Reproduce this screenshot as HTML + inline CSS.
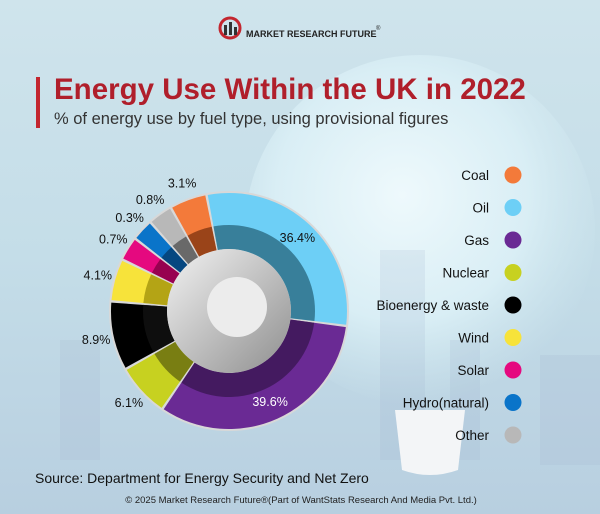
<!DOCTYPE html>
<html><head><meta charset="utf-8"><style>
html,body{margin:0;padding:0}
body{width:600px;height:514px;overflow:hidden;font-family:"Liberation Sans",sans-serif}
svg{display:block}
</style></head><body>
<svg id="chart" width="600" height="514" viewBox="0 0 600 514" xmlns="http://www.w3.org/2000/svg">
<defs>
<linearGradient id="bg" x1="0" y1="0" x2="0" y2="1">
<stop offset="0" stop-color="#cfe4ec"/><stop offset="0.5" stop-color="#c4dde8"/><stop offset="1" stop-color="#b8cfe0"/>
</linearGradient>
<radialGradient id="bulb" cx="0.45" cy="0.4" r="0.6">
<stop offset="0" stop-color="#eef9fc"/><stop offset="0.6" stop-color="#d9eef5"/><stop offset="1" stop-color="#cfe7ef" stop-opacity="0"/>
</radialGradient>
<linearGradient id="hub" x1="0" y1="0" x2="1" y2="1">
<stop offset="0" stop-color="#f2f2f2"/><stop offset="1" stop-color="#8f8f8f"/>
</linearGradient>
</defs>
<rect width="600" height="514" fill="url(#bg)"/>
<circle cx="420" cy="230" r="175" fill="url(#bulb)"/>
<g opacity="0.18" fill="#9fb3cf">
<rect x="60" y="340" width="40" height="120"/><rect x="380" y="250" width="45" height="210"/><rect x="540" y="355" width="60" height="110"/><rect x="450" y="340" width="30" height="120"/>
</g>
<path d="M395 410 L465 410 L458 470 Q430 480 402 470 Z" fill="#f3f5f7"/>
<g>
<circle cx="230" cy="28" r="10" fill="none" stroke="#c3262f" stroke-width="3"/>
<rect x="224" y="25" width="3" height="10" fill="#333"/><rect x="229" y="22" width="3" height="13" fill="#333"/><rect x="234" y="27" width="3" height="8" fill="#333"/>
<text x="246" y="37" font-size="9" font-weight="bold" fill="#222">MARKET  RESEARCH  FUTURE</text>
<text x="376" y="30" font-size="6" fill="#222">®</text>
</g>
<rect x="36" y="77" width="4" height="51" fill="#c3262f"/>
<text x="54" y="99" font-size="29.5" font-weight="bold" fill="#b01f2b">Energy Use Within the UK in 2022</text>
<text x="54" y="124" font-size="16.5" fill="#333">% of energy use by fuel type, using provisional figures</text>
<g id="donut"></g>
<g id="legend"></g>
<text x="35" y="483" font-size="14" fill="#111">Source: Department for Energy Security and Net Zero</text>
<text x="301" y="503" font-size="9.5" fill="#222" text-anchor="middle">© 2025 Market Research Future®(Part of WantStats Research And Media Pvt. Ltd.)</text>
</svg>
<script>
const categories = ["Oil","Gas","Nuclear","Bioenergy & waste","Wind","Solar","Hydro(natural)","Other","Coal"];
const values = [36.4,39.6,6.1,8.9,4.1,0.7,0.3,0.8,3.1];
const valueLabels = ["36.4%","39.6%","6.1%","8.9%","4.1%","0.7%","0.3%","0.8%","3.1%"];
const colors = ["#6dcff6","#6a2a94","#c7d120","#000000","#f7e33a","#e5097f","#0a74c9","#b8b8b8","#f37a3a"];
const darkColors = ["#2f7189","#3d1757","#6b7010","#111111","#a8990f","#8a0048","#063f73","#5a5a5a","#8a3b14"];
const legendOrder = ["Coal","Oil","Gas","Nuclear","Bioenergy & waste","Wind","Solar","Hydro(natural)","Other"];
const NS="http://www.w3.org/2000/svg";
const cx=229,cy=311,R=118,r0=62,rIn=86;
const startDeg=-11, base=10;
const total=values.reduce((a,b)=>a+b,0);
const k=(360-base*values.length)/total;
function pt(rad,deg){const a=(deg-90)*Math.PI/180;return [cx+rad*Math.cos(a),cy+rad*Math.sin(a)];}
function arc(r1,r2,a1,a2){const l=(a2-a1)>180?1:0;const p1=pt(r2,a1),p2=pt(r2,a2),p3=pt(r1,a2),p4=pt(r1,a1);
return `M${p1[0]},${p1[1]} A${r2},${r2} 0 ${l} 1 ${p2[0]},${p2[1]} L${p3[0]},${p3[1]} A${r1},${r1} 0 ${l} 0 ${p4[0]},${p4[1]} Z`;}
const donut=document.getElementById('donut');
const rim=document.createElementNS(NS,'circle');
rim.setAttribute('cx',cx);rim.setAttribute('cy',cy);rim.setAttribute('r',R+2);rim.setAttribute('fill','#d8d8d8');


donut.appendChild(rim);
let a=startDeg;
values.forEach((v,i)=>{
  const span=base+k*v, a1=a, a2=a+span; a=a2;
  const g=document.createElementNS(NS,'g');
  
  
  const p=document.createElementNS(NS,'path');
  p.setAttribute('d',arc(r0,R,a1+0.6,a2-0.6));p.setAttribute('fill',colors[i]);
  g.appendChild(p);
  const d=document.createElementNS(NS,'path');
  d.setAttribute('d',arc(r0,rIn,a1+0.6,a2-0.6));d.setAttribute('fill',darkColors[i]);d.setAttribute('opacity','0.85');
  g.appendChild(d);
  donut.appendChild(g);
  const mid=(a1+a2)/2;
  const big=span>60;
  const lp=pt(big?100:136,mid);
  const t=document.createElementNS(NS,'text');
  t.setAttribute('x',lp[0]);t.setAttribute('y',lp[1]+4);t.setAttribute('font-size','12.5');
  t.setAttribute('text-anchor','middle');t.setAttribute('fill',(big&&i===1)?'#fff':'#111');
  t.textContent=valueLabels[i];
  
  
  donut.appendChild(t);
});
const hub=document.createElementNS(NS,'circle');
hub.setAttribute('cx',cx);hub.setAttribute('cy',cy);hub.setAttribute('r',r0);hub.setAttribute('fill','url(#hub)');


donut.appendChild(hub);
const hub2=document.createElementNS(NS,'circle');
hub2.setAttribute('cx',cx+8);hub2.setAttribute('cy',cy-4);hub2.setAttribute('r',30);hub2.setAttribute('fill','#ececec');


donut.appendChild(hub2);
const legend=document.getElementById('legend');
legendOrder.forEach((name,j)=>{
  const i=categories.indexOf(name);
  const y=175+j*32.5;
  const g=document.createElementNS(NS,'g');
  
  
  const t=document.createElementNS(NS,'text');
  t.setAttribute('x',489);t.setAttribute('y',y+5);t.setAttribute('font-size','13.5');t.setAttribute('text-anchor','end');t.setAttribute('fill','#111');
  t.textContent=name;g.appendChild(t);
  const c=document.createElementNS(NS,'circle');
  c.setAttribute('cx',513);c.setAttribute('cy',y);c.setAttribute('r',8.5);c.setAttribute('fill',colors[i]);
  g.appendChild(c);
  legend.appendChild(g);
});
</script>
</body></html>
